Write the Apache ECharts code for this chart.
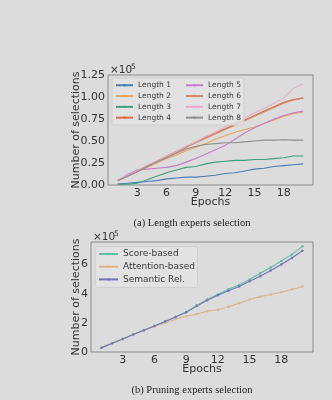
<!DOCTYPE html>
<html><head><meta charset="utf-8">
<script src="https://cdn.jsdelivr.net/npm/echarts@6/dist/echarts.min.js"></script>
<style>html,body{margin:0;padding:0;background:#dcdcdc}#c{width:332px;height:400px}</style>
</head><body><div id="c"></div>
<script>
const epochs = [1,2,3,4,5,6,7,8,9,10,11,12,13,14,15,16,17,18,19,20];
const xTicks = [3,6,9,12,15,18];
const topYTicks = ['0.00','0.25','0.50','0.75','1.00','1.25'];
const botYTicks = ['0','2','4','6'];
const lengthNames = ['Length 1','Length 2','Length 3','Length 4','Length 5','Length 6','Length 7','Length 8'];
const len1 = [0.01,0.02,0.03,0.04,0.05,0.07,0.08,0.09,0.09,0.10,0.11,0.13,0.14,0.16,0.18,0.19,0.21,0.22,0.23,0.24];
const len2 = [0.05,0.10,0.15,0.20,0.25,0.30,0.34,0.39,0.43,0.47,0.52,0.56,0.60,0.63,0.66,0.70,0.74,0.78,0.81,0.83];
const len3 = [0.01,0.01,0.02,0.06,0.10,0.14,0.17,0.20,0.21,0.24,0.26,0.27,0.28,0.28,0.29,0.29,0.30,0.31,0.33,0.33];
const len4 = [0.05,0.11,0.16,0.22,0.27,0.33,0.38,0.43,0.49,0.54,0.59,0.64,0.69,0.74,0.79,0.84,0.89,0.94,0.97,0.99];
const len5 = [0.05,0.12,0.17,0.18,0.19,0.20,0.22,0.26,0.30,0.35,0.40,0.45,0.52,0.59,0.65,0.70,0.75,0.79,0.82,0.84];
const len6 = [0.05,0.10,0.16,0.21,0.27,0.32,0.37,0.43,0.48,0.53,0.58,0.63,0.68,0.73,0.78,0.83,0.88,0.93,0.965,0.985];
const len7 = [0.05,0.11,0.16,0.22,0.27,0.33,0.38,0.44,0.49,0.55,0.60,0.66,0.71,0.76,0.82,0.87,0.93,0.99,1.10,1.15];
const len8 = [0.05,0.10,0.15,0.21,0.26,0.31,0.36,0.41,0.44,0.46,0.47,0.48,0.48,0.49,0.50,0.51,0.51,0.515,0.51,0.51];
const pruneNames = ['Score-based','Attention-based','Semantic Rel.'];
const scoreBased = [0.3,0.6,0.9,1.2,1.5,1.78,2.1,2.4,2.75,3.2,3.6,3.95,4.3,4.6,4.98,5.4,5.8,6.25,6.7,7.25];
const attentionBased = [0.3,0.6,0.9,1.2,1.5,1.75,2.0,2.25,2.45,2.6,2.8,2.9,3.1,3.35,3.6,3.8,3.95,4.1,4.3,4.5];
const semanticRel = [0.3,0.6,0.9,1.2,1.5,1.78,2.1,2.4,2.72,3.15,3.55,3.9,4.2,4.5,4.85,5.2,5.6,6.0,6.45,6.95];

const lenData = [len1,len2,len3,len4,len5,len6,len7,len8];
const lenColors = ['#4b7db3','#e8a45c','#3f9e7e','#e06a45','#c77cc9','#cf8a66','#ebaacb','#8e8e8e'];
const pruneData = [scoreBased, attentionBased, semanticRel];
const pruneColors = ['#5fbfa6','#ddb48a','#7474b8'];
const pairs = arr => epochs.map((e,i)=>[e, arr[i]]);
const FONT = 'DejaVu Sans';
const TXT = '#333';

function xAxisCfg(gi){
  return {type:'value', gridIndex:gi, min:0, max:21, interval:3,
    name:'Epochs', nameLocation:'middle', nameGap:12, nameMoveOverlap:false,
    nameTextStyle:{fontFamily:FONT, fontSize:11, color:TXT},
    axisLine:{show:false}, axisTick:{show:false}, splitLine:{show:false},
    axisLabel:{fontFamily:FONT, fontSize:11, color:TXT, margin:3, showMinLabel:false, showMaxLabel:false,
      formatter: v => xTicks.includes(v) ? String(v) : ''}};
}

const series = [];
lenData.forEach((d,i)=>series.push({type:'line', name:lengthNames[i], xAxisIndex:0, yAxisIndex:0,
  data:pairs(d), symbol:'circle', symbolSize:2, showSymbol:false, lineStyle:{width:1.1, color:lenColors[i]}, itemStyle:{color:lenColors[i]}, z:2}));
pruneData.forEach((d,i)=>series.push({type:'line', name:pruneNames[i], xAxisIndex:1, yAxisIndex:1,
  data:pairs(d), symbol:'circle', symbolSize:2.5, lineStyle:{width:1.1, color:pruneColors[i]}, itemStyle:{color:pruneColors[i]}, z:2}));

const legendText = (fs)=>({fontFamily:FONT, fontSize:fs, color:'#3a3a3a', lineHeight:fs+1});

const option = {
  backgroundColor:'#dcdcdc',
  animation:false,
  grid:[
    {left:108, top:75, width:205, height:110, show:true, borderColor:'#8a8a8a', borderWidth:1, backgroundColor:'transparent'},
    {left:91, top:242, width:222, height:110, show:true, borderColor:'#8a8a8a', borderWidth:1, backgroundColor:'transparent'}
  ],
  xAxis:[xAxisCfg(0), xAxisCfg(1)],
  yAxis:[
    {type:'value', gridIndex:0, min:0, max:1.25, interval:0.25,
      name:'Number of selections', nameLocation:'middle', nameGap:26, nameMoveOverlap:false,
      nameTextStyle:{fontFamily:FONT, fontSize:11, color:TXT},
      axisLine:{show:false}, axisTick:{show:false}, splitLine:{show:false},
      axisLabel:{fontFamily:FONT, fontSize:11, color:TXT, margin:3,
        formatter: v => { const s = v.toFixed(2); return topYTicks.includes(s) ? s : ''; }}},
    {type:'value', gridIndex:1, min:0, max:7.55, interval:2,
      name:'Number of selections', nameLocation:'middle', nameGap:9.5, nameMoveOverlap:false,
      nameTextStyle:{fontFamily:FONT, fontSize:11, color:TXT},
      axisLine:{show:false}, axisTick:{show:false}, splitLine:{show:false},
      axisLabel:{fontFamily:FONT, fontSize:11, color:TXT, margin:3, showMaxLabel:false,
        formatter: v => botYTicks.includes(String(v)) ? String(v) : ''}}
  ],
  legend:[
    {data:lengthNames.slice(0,4), orient:'vertical', left:115, top:81, itemWidth:17, itemHeight:3, itemGap:2.3, padding:0,
      textStyle:legendText(7.5), z:5},
    {data:lengthNames.slice(4,8), orient:'vertical', left:185, top:81, itemWidth:17, itemHeight:3, itemGap:2.3, padding:0,
      textStyle:legendText(7.5), z:5},
    {data:pruneNames, orient:'vertical', left:98, top:249, itemWidth:19, itemHeight:3, itemGap:2.7, padding:0,
      textStyle:legendText(9), z:5}
  ],
  graphic:[
    {type:'rect', shape:{x:112, y:78, width:132, height:47, r:2}, style:{fill:'rgba(228,228,228,0.8)', stroke:'#cfcfcf', lineWidth:1}, z:3},
    {type:'rect', shape:{x:95.5, y:246.5, width:102, height:41, r:2}, style:{fill:'rgba(228,228,228,0.8)', stroke:'#cfcfcf', lineWidth:1}, z:3},
    {type:'text', left:110, top:65, style:{text:'×10', font:'10.5px "DejaVu Sans"', fill:TXT}, z:5},
    {type:'text', left:131, top:63, style:{text:'5', font:'7.5px "DejaVu Sans"', fill:TXT}, z:5},
    {type:'text', left:93, top:232, style:{text:'×10', font:'10.5px "DejaVu Sans"', fill:TXT}, z:5},
    {type:'text', left:114, top:230, style:{text:'5', font:'7.5px "DejaVu Sans"', fill:TXT}, z:5},
    {type:'text', x:192, y:223, style:{text:'(a) Length experts selection', font:'10.5px "Liberation Serif"', fill:'#222', textAlign:'center', textVerticalAlign:'middle'}, z:5},
    {type:'text', x:192, y:390, style:{text:'(b) Pruning experts selection', font:'10.5px "Liberation Serif"', fill:'#222', textAlign:'center', textVerticalAlign:'middle'}, z:5}
  ],
  series: series
};
const chart = echarts.init(document.getElementById('c'), null, {renderer:'canvas'});
chart.setOption(option);
</script></body></html>
